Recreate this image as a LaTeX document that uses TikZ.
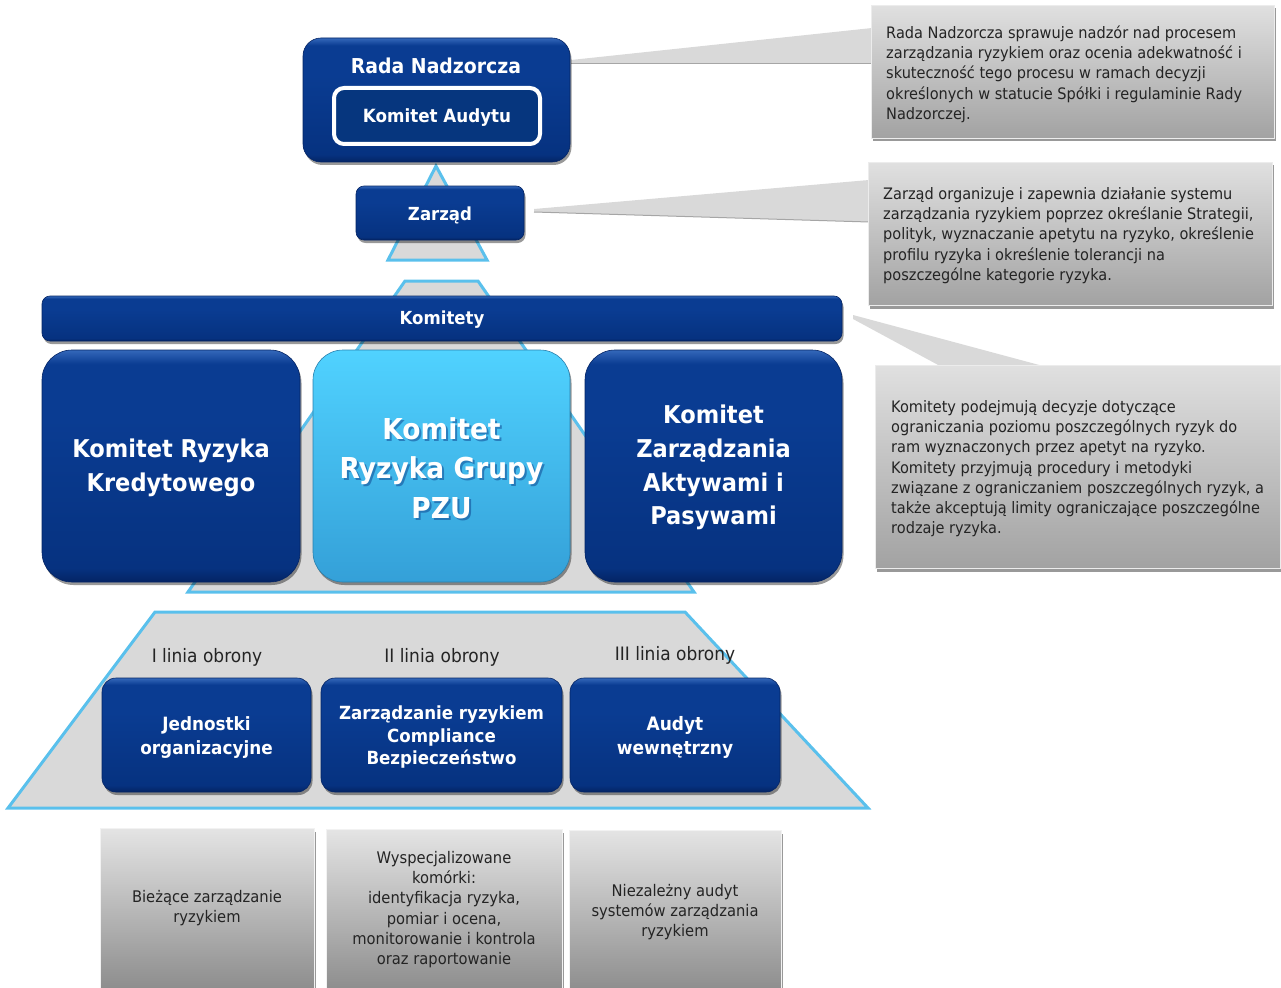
\documentclass[tikz,border=0pt]{standalone}
\usepackage{fontspec}
\setmainfont{DejaVu Sans}[FakeStretch=0.92]
\usetikzlibrary{shadows}

\definecolor{navyLight}{RGB}{52,104,186}
\definecolor{navyMain}{RGB}{10,60,146}
\definecolor{navyMainB}{RGB}{6,50,128}
\definecolor{navyDark}{RGB}{4,36,100}
\definecolor{navyIn}{RGB}{6,54,126}
\definecolor{skyTop}{RGB}{80,210,255}
\definecolor{skyBot}{RGB}{52,160,216}
\definecolor{edgeBlue}{RGB}{90,192,236}
\definecolor{paleGray}{RGB}{217,217,217}
\definecolor{noteTop}{RGB}{224,224,224}
\definecolor{noteBot}{RGB}{162,162,162}
\definecolor{cellTop}{RGB}{228,228,228}
\definecolor{cellBot}{RGB}{136,136,136}
\definecolor{ink}{RGB}{36,36,36}

% glossy navy fill: light rim on top, flat body, dark rim at the bottom
\pgfdeclareverticalshading{navygloss}{100bp}{%
  color(0bp)=(navyDark); color(25bp)=(navyDark); color(28bp)=(navyMainB);
  color(60bp)=(navyMain); color(72bp)=(navyMain); color(75bp)=(navyLight);
  color(100bp)=(navyLight)}

\tikzset{
  x=1pt, y=-1pt,
  softshadow/.style={drop shadow={shadow xshift=1.5pt, shadow yshift=-3pt, opacity=0.4, fill=black}},
  bluebox/.style={shading=navygloss, draw=navyDark, line width=0.6pt,
    text=white, align=center, inner sep=0pt, softshadow},
  skybox/.style={shade, top color=skyTop, bottom color=skyBot, draw=skyBot!80!black,
    line width=0.6pt, text=white, align=center, inner sep=0pt, softshadow},
  tier/.style={fill=paleGray, draw=edgeBlue, line width=3pt, line join=miter},
  notebox/.style={shade, top color=noteTop, bottom color=noteBot, draw=white!85!gray,
    line width=1pt, softshadow},
  wedge/.style={fill=paleGray, draw=none},
  cell/.style={shade, top color=cellTop, bottom color=cellBot, draw=white!90!gray,
    line width=1pt, inner sep=0pt, text=ink, align=center, softshadow},
  notetext/.style={anchor=base west, inner sep=0pt, text=ink},
  linelabel/.style={text=ink, font=\fontsize{18.5}{22}\selectfont},
}

\newcommand{\notepar}[1]{\parbox[t]{400pt}{\raggedright\fontsize{15.8}{20.2}\selectfont #1}}

\begin{document}
\begin{tikzpicture}
\useasboundingbox (0,0) rectangle (1281,987);
\clip (0,0) rectangle (1281,987);

% --- pyramid tiers behind the boxes ---
\draw[tier] (436,166) -- (487,260) -- (388,260) -- cycle;
\draw[tier] (405,281) -- (478,281) -- (694,592) -- (188,592) -- cycle;
\draw[tier] (155,612) -- (685,612) -- (868,808) -- (8,808) -- cycle;

% --- callout pointers ---
\coordinate (t1) at (571,60);
\coordinate (t2) at (534,209);
\coordinate (t3) at (853,315);
\fill[wedge] (t1) -- (872,28) -- (872,64) -- (571,64) -- cycle;
\draw[gray!70, line width=1pt] (t1) ++(0,4) -- (872,64);
\fill[wedge] (t2) -- (869,180) -- (869,222) -- (534,212) -- cycle;
\draw[gray!70, line width=1pt] (534,212) -- (869,222);
\fill[wedge] (t3) -- (1043,366) -- (940,366) -- (853,319) -- cycle;

% --- callout boxes ---
\node[notebox, minimum width=403pt, minimum height=133pt, anchor=north west] (n1) at (871,5) {};
\node[notebox, minimum width=404pt, minimum height=143pt, anchor=north west] (n2) at (868,162) {};
\node[notebox, minimum width=405pt, minimum height=203pt, anchor=north west] (n3) at (875,365) {};

\node[notetext] (n1t) at (886,38.5) {\notepar{Rada Nadzorcza sprawuje nadzór nad procesem\\
zarządzania ryzykiem oraz ocenia adekwatność i\\
skuteczność tego procesu w ramach decyzji\\
określonych w statucie Spółki i regulaminie Rady\\
Nadzorczej.}};
\node[notetext] (n2t) at (883,199.5) {\notepar{Zarząd organizuje i zapewnia działanie systemu\\
zarządzania ryzykiem poprzez określanie Strategii,\\
polityk, wyznaczanie apetytu na ryzyko, określenie\\
profilu ryzyka i określenie tolerancji na\\
poszczególne kategorie ryzyka.}};
\node[notetext] (n3t) at (891,412.5) {\notepar{Komitety podejmują decyzje dotyczące\\
ograniczania poziomu poszczególnych ryzyk do\\
ram wyznaczonych przez apetyt na ryzyko.\\
Komitety przyjmują procedury i metodyki\\
związane z ograniczaniem poszczególnych ryzyk, a\\
także akceptują limity ograniczające poszczególne\\
rodzaje ryzyka.}};

% --- supervisory board ---
\node[bluebox, rounded corners=18pt, minimum width=267pt, minimum height=124pt] (rada) at (436.5,100) {};
\node[text=white, font=\bfseries\fontsize{20.5}{23}\selectfont] (radat) at (436,66) {Rada Nadzorcza};
\node[draw=white, line width=4pt, fill=navyIn, rounded corners=10pt, minimum width=206pt,
      minimum height=56pt, text=white, font=\bfseries\fontsize{18.2}{20}\selectfont] (audyt) at (437,116) {};
\node[text=white, font=\bfseries\fontsize{18.2}{20}\selectfont] (audytt) at (437,118) {Komitet Audytu};

% --- management board ---
\node[bluebox, rounded corners=8pt, minimum width=168pt, minimum height=54pt] (zarzad) at (440,213) {};
\node[text=white, font=\bfseries\fontsize{18}{20}\selectfont] (zarzadt) at (440,215) {Zarząd};

% --- committees ---
\node[bluebox, rounded corners=8pt, minimum width=800pt, minimum height=45pt] (komitety) at (442,318.5) {};
\node[text=white, font=\bfseries\fontsize{18}{20}\selectfont] (komitetyt) at (442,320) {Komitety};

\node[bluebox, rounded corners=30pt, minimum width=258pt, minimum height=232pt] (krk) at (171,466) {};
\node[text=white, align=center, font=\bfseries\fontsize{24.5}{34}\selectfont] (krkt) at (171,468) {Komitet Ryzyka\\Kredytowego};
\node[skybox, rounded corners=30pt, minimum width=257pt, minimum height=232pt] (krg) at (441.5,466) {};
\node[text=navyMainB, opacity=0.45, align=center, font=\bfseries\fontsize{28.8}{39.5}\selectfont] (krgs) at (443.5,470) {Komitet\\Ryzyka Grupy\\PZU};
\node[text=white, align=center, font=\bfseries\fontsize{28.8}{39.5}\selectfont] (krgt) at (441.5,468) {Komitet\\Ryzyka Grupy\\PZU};
\node[bluebox, rounded corners=30pt, minimum width=257pt, minimum height=232pt] (kzap) at (713.5,466) {};
\node[text=white, align=center, font=\bfseries\fontsize{24.5}{33.7}\selectfont] (kzapt) at (713.5,467.5) {Komitet\\Zarządzania\\Aktywami i\\Pasywami};

% --- lines of defence ---
\node[linelabel] (l1) at (207,657) {I linia obrony};
\node[linelabel] (l2) at (442,657) {II linia obrony};
\node[linelabel] (l3) at (675,655) {III linia obrony};

\node[bluebox, rounded corners=14pt, minimum width=209pt, minimum height=114pt] (jo) at (206.5,735) {};
\node[text=white, align=center, font=\bfseries\fontsize{18.3}{24}\selectfont] (jot) at (206.5,737.5) {Jednostki\\organizacyjne};
\node[bluebox, rounded corners=14pt, minimum width=241pt, minimum height=114pt] (zr) at (441.5,735) {};
\node[text=white, align=center, font=\bfseries\fontsize{18.1}{22.5}\selectfont] (zrt) at (441.5,737)
      {Zarządzanie ryzykiem\\Compliance\\Bezpieczeństwo};
\node[bluebox, rounded corners=14pt, minimum width=210pt, minimum height=114pt] (aw) at (675,735) {};
\node[text=white, align=center, font=\bfseries\fontsize{18.5}{24}\selectfont] (awt) at (675,737.5) {Audyt\\wewnętrzny};

% --- descriptions under each line ---
\node[cell, minimum width=214pt, minimum height=170pt, anchor=north] (c1) at (207,828) {};
\node[cell, minimum width=236pt, minimum height=170pt, anchor=north] (c2) at (444,829) {};
\node[cell, minimum width=212pt, minimum height=170pt, anchor=north] (c3) at (675,830) {};

\node[text=ink, align=center, font=\fontsize{16}{20}\selectfont] (c1t) at (207,908) {Bieżące zarządzanie\\ryzykiem};
\node[text=ink, align=center, font=\fontsize{16}{20.2}\selectfont] (c2t) at (444,909.5)
  {Wyspecjalizowane\\komórki:\\identyfikacja ryzyka,\\pomiar i ocena,\\monitorowanie i kontrola\\oraz raportowanie};
\node[text=ink, align=center, font=\fontsize{16}{20}\selectfont] (c3t) at (675,912) {Niezależny audyt\\systemów zarządzania\\ryzykiem};
\end{tikzpicture}
\end{document}
